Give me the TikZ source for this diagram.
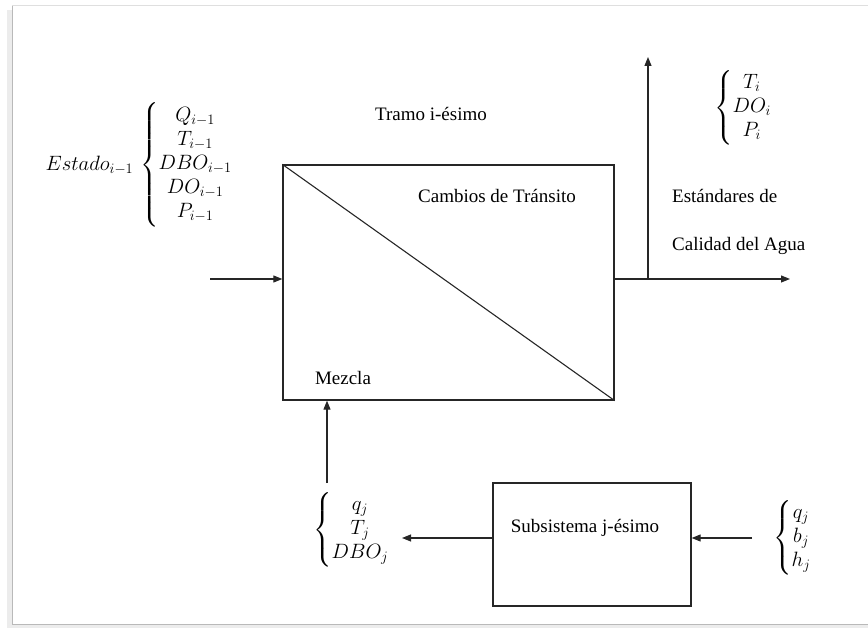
\documentclass[tikz,border=0pt]{standalone}
\usepackage{amsmath}
\usepackage{fontspec}
\setmainfont{Liberation Serif}
\usetikzlibrary{arrows.meta}

\begin{document}
\begin{tikzpicture}[x=1pt, y=-1pt,
  line/.style={draw=black!85, line width=1.1pt},
  flow/.style={line, -{Triangle[length=9pt,width=7pt]}},
  lbl/.style={font=\fontsize{19}{23}\selectfont, inner sep=0pt},
  mth/.style={font=\fontsize{20.74}{24}\selectfont, inner sep=0pt},
  blk/.style={draw=black!85, line width=1.3pt, inner sep=0pt}]

  \useasboundingbox (0,0) rectangle (868,628);

  % page frame with a soft shadow on the left and bottom
  \draw[gray!15, line width=5pt] (9,10) -- (9,626) -- (868,626);
  \draw[gray!25, line width=1pt] (868,6) -- (12,6);
  \draw[gray!55, line width=1pt] (12,6) -- (12,624) -- (868,624);

  % main reach block, split into mixing and transit parts
  \node[blk, minimum width=331pt, minimum height=235pt] (tramo) at (448.5,282.5) {};
  \draw[line] (tramo.north west) -- (tramo.south east);

  % subsystem block
  \node[blk, minimum width=198pt, minimum height=123pt] (subs) at (592,544.5) {};

  % labels
  \node[lbl] (tramoT) at (431,114) {Tramo i-ésimo};
  \node[lbl] (cambios) at (497,196) {Cambios de Tránsito};
  \node[lbl] (mezcla) at (343,378) {Mezcla};
  \node[lbl, anchor=west] (std1) at (672,196) {Estándares de};
  \node[lbl, anchor=west] (std2) at (672,246) {Calidad del Agua};
  \node[lbl] (subtxt) at (585,528) {Subsistema j-ésimo};

  % state variables
  \node[mth, anchor=east] (estado) at (233,165)
    {$Estado_{i-1}\,\left\{\begin{matrix}Q_{i-1}\\T_{i-1}\\DBO_{i-1}\\DO_{i-1}\\P_{i-1}\end{matrix}\right.$};
  \node[mth, anchor=west] (outvars) at (714,108)
    {$\left\{\begin{matrix}T_i\\DO_i\\P_i\end{matrix}\right.$};
  \node[mth, anchor=west] (qvars) at (313,530)
    {$\left\{\begin{matrix}q_j\\T_j\\DBO_j\end{matrix}\right.$};
  \node[mth, anchor=west] (subvars) at (773,538)
    {$\left\{\begin{matrix}q_j\\b_j\\h_j\end{matrix}\right.$};

  % connectors
  \coordinate (inL) at (210,279);
  \draw[flow] (inL) -- (inL -| tramo.west);
  \coordinate (outE) at (790,279);
  \draw[flow] (outE -| tramo.east) -- (outE);
  \coordinate (upT) at (648,57);
  \draw[flow] (upT |- outE) -- (upT);
  \coordinate (qB) at (327,483);
  \draw[flow] (qB) -- (qB |- tramo.south);
  \coordinate (subIn) at (752,538);
  \draw[flow] (subIn) -- (subIn -| subs.east);
  \coordinate (subOut) at (402,538);
  \draw[flow] (subOut -| subs.west) -- (subOut);
\end{tikzpicture}
\end{document}
